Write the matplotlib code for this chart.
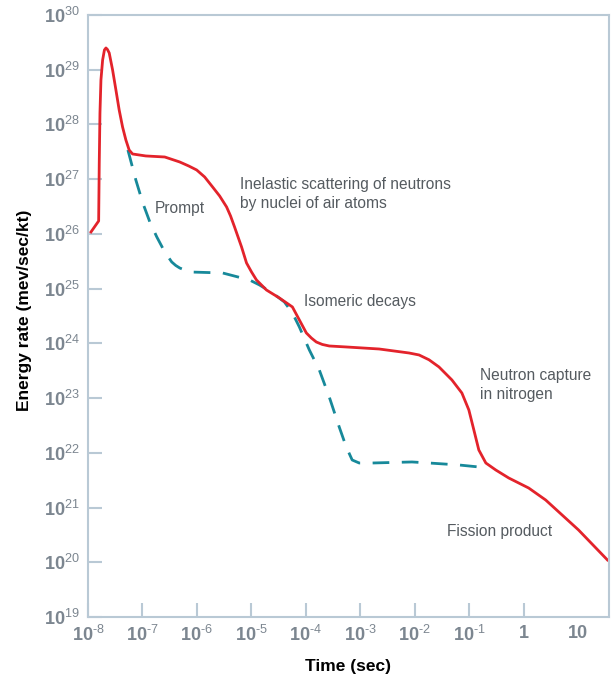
import numpy as np
import matplotlib.pyplot as plt
from matplotlib.ticker import NullLocator, FixedLocator

plt.rcParams['font.family'] = ['Liberation Sans', 'DejaVu Sans']
plt.rcParams['mathtext.fontset'] = 'custom'
plt.rcParams['mathtext.rm'] = 'Liberation Sans'
plt.rcParams['mathtext.bf'] = 'Liberation Sans:bold'

# total energy rate, log10(time) vs log10(rate)
total_logt = [-7.945, -7.804, -7.793, -7.780, -7.762, -7.731, -7.698, -7.670, -7.643,
              -7.610, -7.548, -7.487, -7.427, -7.365, -7.304, -7.244, -7.181, -6.938,
              -6.590, -6.315, -6.150, -6.004, -5.857, -5.711, -5.582, -5.454, -5.381,
              -5.308, -5.179, -5.088, -4.996, -4.905, -4.722, -4.484, -4.245, -4.117,
              -3.989, -3.897, -3.806, -3.696, -3.568, -3.256, -2.652, -2.103, -1.919,
              -1.736, -1.553, -1.315, -1.132, -1.004, -0.912, -0.821, -0.692, -0.509,
              -0.271, 0.095, 0.407, 1.011, 1.542]
total_logr = [26.035, 26.236, 27.296, 28.209, 28.812, 29.178, 29.361, 29.397, 29.370,
              29.306, 28.995, 28.630, 28.264, 27.954, 27.716, 27.533, 27.460, 27.424,
              27.405, 27.314, 27.241, 27.168, 27.040, 26.857, 26.693, 26.492, 26.327,
              26.127, 25.761, 25.469, 25.304, 25.158, 24.975, 24.829, 24.665, 24.427,
              24.190, 24.098, 24.025, 23.980, 23.952, 23.934, 23.897, 23.824, 23.788,
              23.700, 23.569, 23.331, 23.093, 22.783, 22.417, 22.052, 21.814, 21.686,
              21.540, 21.357, 21.138, 20.590, 20.042]

# prompt + isomeric + fission components (dashed)
comp_logt = [-7.267, -7.121, -6.993, -6.864, -6.736, -6.590, -6.462, -6.388, -6.315,
             -6.132, -5.527, -5.033, -4.850, -4.612, -4.392, -4.245, -4.117, -3.934,
             -3.751, -3.568, -3.385, -3.256, -3.147, -3.018, -2.780, -2.048, -1.736,
             -1.187, -0.637]
comp_logr = [27.533, 26.985, 26.565, 26.218, 25.944, 25.670, 25.487, 25.423, 25.377,
             25.304, 25.286, 25.158, 25.067, 24.921, 24.756, 24.555, 24.299, 23.879,
             23.514, 23.020, 22.472, 22.107, 21.869, 21.814, 21.814, 21.833, 21.814,
             21.778, 21.723]

x_ticks = [1e-8, 1e-7, 1e-6, 1e-5, 1e-4, 1e-3, 1e-2, 1e-1, 1, 10]
x_exps = [-8, -7, -6, -5, -4, -3, -2, -1]
y_exps = list(range(19, 31))

notes = [
    (-6.773, 26.455, 'Prompt'),
    (-5.216, 26.73, 'Inelastic scattering of neutrons\nby nuclei of air atoms'),
    (-4.026, 24.77, 'Isomeric decays'),
    (-0.808, 23.24, 'Neutron capture\nin nitrogen'),
    (-1.407, 20.57, 'Fission product'),
]

edge = '#b9c9d5'
tick_txt = '#7c8690'


def power_label(e):
    # bold base, lighter exponent, hyphen for the sign
    s = str(e).replace('-', '\u2010')
    return r'$\mathbf{10}^{\mathrm{%s}}$' % s


fig = plt.figure(figsize=(6.11, 6.77), dpi=100)
ax = fig.add_axes([0.144, 0.0886, 0.8527, 0.8893])

ax.plot(10**np.array(comp_logt), 10**np.array(comp_logr), color='#17899a', lw=2.0,
        dashes=(6, 4.5))
ax.plot(10**np.array(total_logt), 10**np.array(total_logr), color='#e3232b', lw=2.0,
        solid_joinstyle='round')

ax.set_xscale('log')
ax.set_yscale('log')
ax.set_xlim(1e-8, 10**1.57)
ax.set_ylim(1e19, 1e30)

ax.xaxis.set_major_locator(FixedLocator(x_ticks))
ax.set_xticklabels([power_label(e) for e in x_exps] + ['1', '10'], fontweight='bold')
ax.yaxis.set_major_locator(FixedLocator([10.0**e for e in y_exps]))
ax.set_yticklabels([power_label(e) for e in y_exps])
ax.xaxis.set_minor_locator(NullLocator())
ax.yaxis.set_minor_locator(NullLocator())
ax.tick_params(direction='in', length=10, width=1.5, color=edge,
               labelcolor=tick_txt, labelsize=13, pad=6)
ax.xaxis.get_major_ticks()[-1].tick1line.set_visible(False)

for s in ax.spines.values():
    s.set_color(edge)
    s.set_linewidth(1.5)

ax.set_xlabel('Time (sec)', fontsize=12.5, fontweight='bold', labelpad=10)
ax.set_ylabel('Energy rate (mev/sec/kt)', fontsize=12.5, fontweight='bold')
ax.yaxis.set_label_coords(-0.108, 0.51)

for lx, ly, t in notes:
    ax.text(10**lx, 10**ly, t, fontsize=11.2, color='#555b60', va='center', ha='left',
            linespacing=1.35)

fig.savefig('out.png', dpi=100)
